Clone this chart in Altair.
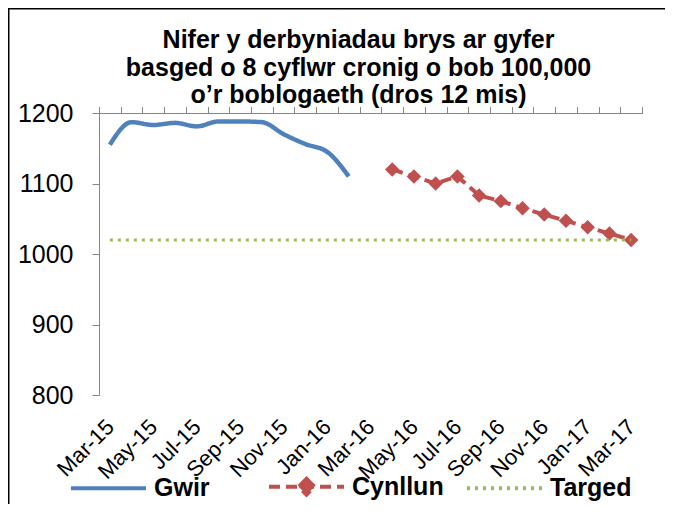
import json
import altair as alt
import pandas as pd

months = ['Mar-15', 'Apr-15', 'May-15', 'Jun-15', 'Jul-15', 'Aug-15', 'Sep-15',
          'Oct-15', 'Nov-15', 'Dec-15', 'Jan-16', 'Feb-16', 'Mar-16', 'Apr-16',
          'May-16', 'Jun-16', 'Jul-16', 'Aug-16', 'Sep-16', 'Oct-16', 'Nov-16',
          'Dec-16', 'Jan-17', 'Feb-17', 'Mar-17']

gwir_months = months[0:12]
gwir = [1155, 1187, 1183, 1186, 1181, 1188, 1188, 1187, 1170, 1156, 1145, 1110]

cynllun_months = months[13:25]
cynllun = [1120, 1110, 1100, 1110, 1083, 1075, 1065, 1056, 1047, 1038, 1029, 1020]

targed_months = months
targed = [1020] * 25

series_names = ['Gwir', 'Cynllun', 'Targed']
series_colors = ['#4F81BD', '#C0504D', '#9BBB59']
series_dash = [[1, 0], [11, 6], [3, 5]]
series_shapes = ['M-1,0L1,0', 'M-1,0L1,0M0,-0.21L0.21,0L0,0.21L-0.21,0Z', 'M-1,0L1,0']

title_lines = ['Nifer y derbyniadau brys ar gyfer',
               'basged o 8 cyflwr cronig o bob 100,000',
               'o\u2019r boblogaeth (dros 12 mis)']

rows = []
for name, ms, vals in [('Gwir', gwir_months, gwir),
                       ('Cynllun', cynllun_months, cynllun),
                       ('Targed', targed_months, targed)]:
    for m, v in zip(ms, vals):
        rows.append({'series': name, 'month': m, 'idx': months.index(m), 'value': v})
df = pd.DataFrame(rows)

FONT = 'Liberation Sans'
GRAY = '#868686'

label_expr = json.dumps(months) + '[datum.value]'

x_labels = alt.X('idx:Q', scale=alt.Scale(domain=[-0.5, 24.5], nice=False, zero=False),
                 axis=alt.Axis(values=list(range(0, 25, 2)), labelExpr=label_expr,
                               labelAngle=-45, labelAlign='right', labelBaseline='middle',
                               labelFontSize=22, labelFont=FONT, labelColor='black',
                               ticks=False, domain=False, grid=False, title=None,
                               labelPadding=28, labelOffset=0, labelOverlap=False))
x_ticks = alt.X('idx:Q', scale=alt.Scale(domain=[-0.5, 24.5], nice=False, zero=False),
                axis=alt.Axis(values=[i - 0.5 for i in range(26)], labels=False,
                              ticks=True, tickSize=6, tickColor=GRAY, domainColor=GRAY,
                              grid=False, title=None))
y_enc = alt.Y('value:Q', scale=alt.Scale(domain=[800, 1200], nice=False, zero=False),
              axis=alt.Axis(values=[800, 900, 1000, 1100, 1200], format='d', grid=False,
                            title=None, labelFontSize=25, labelFont=FONT, labelColor='black',
                            tickSize=7, tickColor=GRAY, domainColor=GRAY, labelPadding=19))

legend = alt.Legend(title=None, orient='none', direction='horizontal',
                    legendX=-30, legendY=334,
                    symbolSize=5625, symbolStrokeWidth=4,
                    labelFontSize=25, labelFont=FONT, labelFontWeight='bold',
                    labelColor='black', labelOffset=6, columnPadding=15,
                    gridAlign='all')

color_enc = alt.Color('series:N', scale=alt.Scale(domain=series_names, range=series_colors),
                      legend=legend)
dash_enc = alt.StrokeDash('series:N', scale=alt.Scale(domain=series_names, range=series_dash),
                          legend=legend)
shape_enc = alt.Shape('series:N', scale=alt.Scale(domain=series_names, range=series_shapes),
                      legend=legend)

base = alt.Chart(df)

gwir_line = base.transform_filter(alt.datum.series == 'Gwir').mark_line(
    strokeWidth=4.5, interpolate='monotone').encode(
    x=x_labels, y=y_enc, color=color_enc, strokeDash=dash_enc)

cyn_line = base.transform_filter(alt.datum.series == 'Cynllun').mark_line(
    strokeWidth=4).encode(x=x_ticks, y=y_enc, color=color_enc, strokeDash=dash_enc)

cyn_pts = base.transform_filter(alt.datum.series == 'Cynllun').mark_point(
    shape='diamond', filled=True, size=210, opacity=1, color='#C0504D').encode(
    x=x_ticks, y=y_enc)

tar_line = base.transform_filter(alt.datum.series == 'Targed').mark_line(
    strokeWidth=3).encode(x=x_ticks, y=y_enc, color=color_enc, strokeDash=dash_enc)

legend_helper = base.transform_filter('false').mark_point(filled=True, opacity=1).encode(
    x=x_ticks, y=y_enc, color=color_enc, shape=shape_enc, strokeDash=dash_enc)

one = alt.Data(values=[{'a': 1}])
frame_left = alt.Chart(one).mark_rule(color='black', strokeWidth=2).encode(
    x=alt.value(-90.5), y=alt.value(-105), y2=alt.value(700))
frame_top = alt.Chart(one).mark_rule(color='black', strokeWidth=2).encode(
    x=alt.value(-91.5), x2=alt.value(700), y=alt.value(-104.5))

chart = alt.layer(gwir_line, cyn_line, cyn_pts, tar_line, legend_helper,
                  frame_left, frame_top).resolve_axis(x='independent').properties(
    width=543, height=282,
    autosize=alt.AutoSizeParams(type='none'),
    padding={'left': 91, 'top': 105, 'right': 23, 'bottom': 109},
    title=alt.TitleParams(text=title_lines, fontSize=25, font=FONT, fontWeight='bold',
                          color='black', anchor='middle', frame='group', dx=-12,
                          offset=-101, lineHeight=27.5)
).configure_view(stroke=None).configure_axis(labelFont=FONT)

chart.save('out.html', embed_options={'renderer': 'svg', 'actions': False})
